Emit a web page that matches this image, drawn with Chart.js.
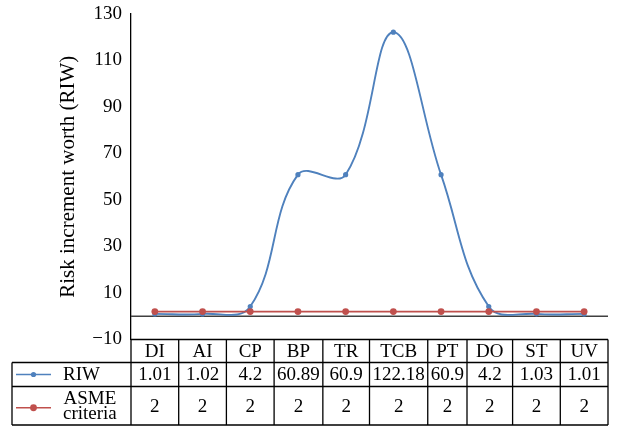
<!DOCTYPE html>
<html>
<head>
<meta charset="utf-8">
<script src="https://cdn.jsdelivr.net/npm/chart.js@4"></script>
<style>
	body { margin: 0; background: #fff; }
	#caixa { width: 618px; height: 428px; }
</style>
</head>
<body>
<div id="caixa"><canvas id="riwChart"></canvas></div>
<script>
const categorias = ['DI', 'AI', 'CP', 'BP', 'TR', 'TCB', 'PT', 'DO', 'ST', 'UV'];
const valoresRIW = [1.01, 1.02, 4.2, 60.89, 60.9, 122.18, 60.9, 4.2, 1.03, 1.01];
const valoresASME = [2, 2, 2, 2, 2, 2, 2, 2, 2, 2];
const ticksY = [-10, 10, 30, 50, 70, 90, 110, 130];
const nomeRIW = ['RIW'];
const nomeASME = ['ASME', 'criteria'];
const tituloY = 'Risk increment worth (RIW)';

const AZUL = '#4F81BD';
const VERMELHO = '#C0504D';
const FONTE = '"Liberation Serif", "DejaVu Serif", serif';

window.onload = function () {
	desenharGrafico();
}

// linha do zero por baixo das series
const linhaZero = {
	id: 'linhaZero',
	beforeDatasetsDraw(chart) {
		const ctx = chart.ctx;
		const area = chart.chartArea;
		const y = chart.scales.y.getPixelForValue(0);
		ctx.save();
		ctx.strokeStyle = '#404040';
		ctx.lineWidth = 1.6;
		ctx.beginPath();
		ctx.moveTo(area.left, y);
		ctx.lineTo(area.right, y);
		ctx.stroke();
		ctx.restore();
	}
};

function textoLinhas(ctx, linhas, x, y, alinhar, passo) {
	const topo = y - (linhas.length - 1) * passo / 2;
	ctx.textAlign = alinhar;
	linhas.forEach(function (l, i) {
		ctx.fillText(l, x, topo + i * passo);
	});
}

function amostraLegenda(ctx, cor, y, raio) {
	ctx.strokeStyle = cor;
	ctx.fillStyle = cor;
	ctx.lineWidth = 1.6;
	ctx.beginPath();
	ctx.moveTo(16, y);
	ctx.lineTo(51, y);
	ctx.stroke();
	ctx.beginPath();
	ctx.arc(33.5, y, raio, 0, Math.PI * 2);
	ctx.fill();
}

// tabela de dados por baixo do grafico, alinhada com a escala x
const tabelaDados = {
	id: 'tabelaDados',
	afterDraw(chart) {
		const ctx = chart.ctx;
		const area = chart.chartArea;
		const x = chart.scales.x;
		const n = categorias.length;
		const y0 = area.bottom;
		const y1 = y0 + 23;
		const y2 = y1 + 24;
		const y3 = y2 + 38.5;
		const esquerda = 12;

		ctx.save();
		ctx.font = '19px ' + FONTE;

		// limites das colunas: meio entre pontos, alargando se o texto nao couber
		const limites = [area.left];
		for (let i = 0; i < n; i++) {
			const meio = i < n - 1 ? (x.getPixelForValue(i) + x.getPixelForValue(i + 1)) / 2 : area.right;
			const largura = Math.max(
				ctx.measureText(categorias[i]).width,
				ctx.measureText(String(valoresRIW[i])).width,
				ctx.measureText(String(valoresASME[i])).width
			) + 6;
			limites.push(Math.max(meio, limites[i] + largura));
		}
		const direita = limites[n];

		ctx.strokeStyle = '#000';
		ctx.lineWidth = 1.3;
		ctx.beginPath();
		ctx.moveTo(area.left, y0); ctx.lineTo(direita, y0);
		[y1, y2, y3].forEach(function (yy) {
			ctx.moveTo(esquerda, yy); ctx.lineTo(direita, yy);
		});
		ctx.moveTo(esquerda, y1); ctx.lineTo(esquerda, y3);
		limites.forEach(function (lx) {
			ctx.moveTo(lx, y0); ctx.lineTo(lx, y3);
		});
		ctx.stroke();

		ctx.fillStyle = '#000';
		ctx.textBaseline = 'middle';
		ctx.textAlign = 'center';
		for (let i = 0; i < n; i++) {
			const cx = (limites[i] + limites[i + 1]) / 2;
			ctx.fillText(categorias[i], cx, (y0 + y1) / 2 + 1);
			ctx.fillText(String(valoresRIW[i]), cx, (y1 + y2) / 2 + 1);
			ctx.fillText(String(valoresASME[i]), cx, (y2 + y3) / 2 + 1);
		}

		// legenda dentro da tabela
		ctx.fillStyle = '#000';
		textoLinhas(ctx, nomeRIW, 63, (y1 + y2) / 2 + 1, 'left', 15);
		const larguraASME = Math.max.apply(null, nomeASME.map(function (t) { return ctx.measureText(t).width; }));
		textoLinhas(ctx, nomeASME, 63 + larguraASME / 2, (y2 + y3) / 2 + 1, 'center', 15.5);

		amostraLegenda(ctx, AZUL, (y1 + y2) / 2, 2.6);
		amostraLegenda(ctx, VERMELHO, (y2 + y3) / 2 + 2, 3.4);
		ctx.restore();
	}
};

function desenharGrafico() {
	const contexto = document.getElementById('riwChart').getContext('2d');
	new Chart(contexto, {
		type: 'line',
		data: {
			labels: categorias,
			datasets: [{
				label: nomeRIW.join(' '),
				data: valoresRIW,
				borderColor: AZUL,
				backgroundColor: AZUL,
				borderWidth: 1.9,
				pointRadius: 2.6,
				pointBorderWidth: 0,
				tension: 0.4,
				fill: false,
				order: 2
			}, {
				label: nomeASME.join(' '),
				data: valoresASME,
				borderColor: VERMELHO,
				backgroundColor: VERMELHO,
				borderWidth: 1.6,
				pointRadius: 3.4,
				pointBorderWidth: 0,
				tension: 0,
				fill: false,
				order: 1
			}]
		},
		options: {
			responsive: true,
			maintainAspectRatio: false,
			animation: false,
			layout: { padding: { left: 0, top: 14, right: 10, bottom: 88.5 } },
			plugins: {
				legend: { display: false },
				tooltip: { enabled: false }
			},
			scales: {
				x: {
					display: false,
					offset: true
				},
				y: {
					min: -10,
					max: 130,
					afterBuildTicks: function (escala) {
						escala.ticks = ticksY.map(function (v) { return { value: v }; });
					},
					afterFit: function (escala) {
						escala.width = 131;
						escala.paddingTop = 0;
						escala.paddingBottom = 0;
					},
					grid: { display: false, drawTicks: false },
					border: { display: true, color: '#000', width: 1.3 },
					ticks: {
						color: '#000',
						padding: 9,
						font: { family: FONTE, size: 19, lineHeight: 1 },
						callback: function (v) { return v < 0 ? '\u2212' + Math.abs(v) : String(v); }
					},
					title: {
						display: true,
						text: tituloY,
						color: '#000',
						font: { family: FONTE, size: 21 },
						padding: { top: 56, bottom: 0 }
					}
				}
			}
		},
		plugins: [linhaZero, tabelaDados]
	});
}
</script>
</body>
</html>
